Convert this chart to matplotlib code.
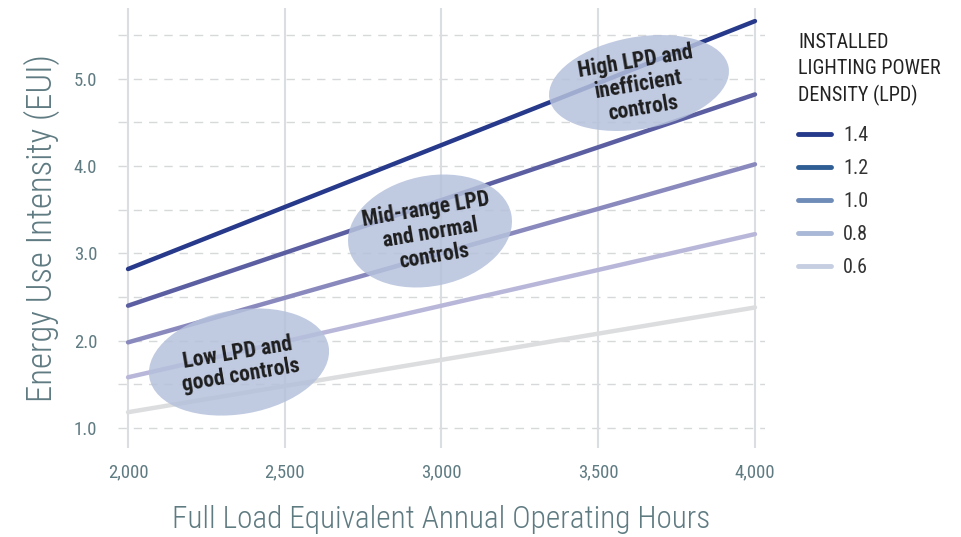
import matplotlib.pyplot as plt
from matplotlib.patches import Ellipse
from matplotlib.lines import Line2D
from matplotlib.transforms import IdentityTransform

# --------- Data ---------
hours = [2000, 4000]
lpd_labels = ["1.4", "1.2", "1.0", "0.8", "0.6"]
eui_14 = [2.82, 5.66]
eui_12 = [2.40, 4.82]
eui_10 = [1.98, 4.02]
eui_08 = [1.58, 3.22]
eui_06 = [1.18, 2.38]
series = [eui_14, eui_12, eui_10, eui_08, eui_06]

x_ticks = [2000, 2500, 3000, 3500, 4000]
y_ticks = [1.0, 2.0, 3.0, 4.0, 5.0]
y_grid = [1.0, 1.5, 2.0, 2.5, 3.0, 3.5, 4.0, 4.5, 5.0, 5.5]

line_colors = ["#27398a", "#5b5fa2", "#8a89bd", "#b9b7d9", "#dcdddf"]
legend_colors = ["#253a8a", "#2f5e95", "#6f8cb8", "#a9b8d6", "#c6cee2"]

FONT = ["Roboto Condensed", "DejaVu Sans"]
AXIS_COLOR = "#5f7b82"

plt.rcParams["font.family"] = FONT

fig = plt.figure(figsize=(9.62, 5.37), dpi=100)
ax = fig.add_axes([118 / 962, 1 - 448 / 537, 647 / 962, 440 / 537])

# grid
for yv in y_grid:
    ax.axhline(yv, color="#d6d8da", lw=1, ls=(0, (6, 5)), zorder=0)
for xv in x_ticks:
    ax.axvline(xv, color="#dadee1", lw=1.5, zorder=0.5)

for vals, col in zip(series, line_colors):
    ax.plot(hours, vals, color=col, lw=3.2, solid_capstyle="round", zorder=2)

ax.set_xlim(1968, 4032)
ax.set_ylim(0.77, 5.81)
for s in ax.spines.values():
    s.set_visible(False)
ax.set_xticks(x_ticks)
ax.set_xticklabels([f"{v:,}" for v in x_ticks])
ax.set_yticks(y_ticks)
ax.set_yticklabels([f"{v:.1f}" for v in y_ticks])
ax.tick_params(length=0, labelsize=13.5, labelcolor=AXIS_COLOR)
ax.tick_params(axis="x", pad=11)
ax.tick_params(axis="y", pad=15)
ax.set_xlabel("Full Load Equivalent Annual Operating Hours", fontsize=22.5,
              color=AXIS_COLOR, fontweight="light", labelpad=17)
ax.set_ylabel("Energy Use Intensity (EUI)", fontsize=25,
              color=AXIS_COLOR, fontweight="light", labelpad=10)

# callout ellipses (pixel positions)
callouts = [
    ((639, 83), 182, 92, 10, "High LPD and\ninefficient\ncontrols"),
    ((430, 231), 166, 110, 12, "Mid-range LPD\nand normal\ncontrols"),
    ((239, 362), 182, 104, 10, "Low LPD and\ngood controls"),
]
H = 537
for (cx, cy), w, h, ang, txt in callouts:
    e = Ellipse((cx, H - cy), w, h, angle=ang, transform=IdentityTransform(),
                facecolor="#b5c1dc", edgecolor="none", alpha=0.85, zorder=3)
    ax.add_artist(e)
    fig.text(cx / 962, 1 - (cy + 2) / H, txt, ha="center", va="center",
             rotation=9.5, fontsize=15.5, fontweight="heavy", color="#1e1e1e",
             linespacing=1.08, zorder=4)

# legend
handles = [Line2D([], [], color=c, lw=3.5, solid_capstyle="round") for c in legend_colors]
leg = fig.legend(handles, lpd_labels, title="INSTALLED\nLIGHTING POWER\nDENSITY (LPD)",
                 loc="upper left", bbox_to_anchor=(798 / 962, 1 - 33 / 537),
                 frameon=False, fontsize=14.5, title_fontsize=14.5, alignment="left",
                 handlelength=1.65, handletextpad=0.6, labelspacing=0.7,
                 borderpad=0, borderaxespad=0)
leg.get_title().set_linespacing(1.45)
leg.get_title().set_color("#222222")
leg._legend_box.sep = 14
for t in leg.get_texts():
    t.set_color("#333333")

fig.savefig("out.png", dpi=100)
